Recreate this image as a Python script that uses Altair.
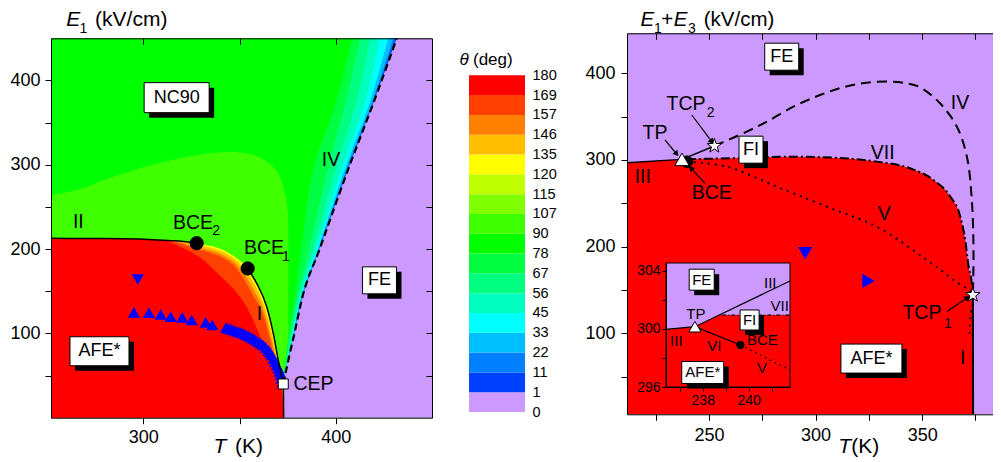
import altair as alt
import pandas as pd

FONT = "Liberation Sans"
W, H = 985, 450
STAR = ("M0,-1L0.235,-0.324L0.951,-0.309L0.38,0.124L0.588,0.809L0,0.4L-0.588,0.809"
        "L-0.38,0.124L-0.951,-0.309L-0.235,-0.324Z")

# ---------------- colour scale: theta (deg) ----------------
CB_LABELS = ["180", "169", "157", "146", "135", "120", "115", "107", "90",
             "78", "67", "56", "45", "33", "22", "11", "1", "0"]
CB_COLORS = ["#ff0000", "#ff4000", "#ff7f00", "#ffbf00", "#ffff00", "#bfff00",
             "#80ff00", "#40ff00", "#00ff00", "#00ff40", "#00ff80", "#00ffbf",
             "#00ffff", "#00bfff", "#0080ff", "#0040ff", "#cc99ff"]
PURPLE = CB_COLORS[16]

# ================= LEFT PANEL  (T in K, E1 in kV/cm) =================
L_T_DOMAIN = [252, 450]
L_E_DOMAIN = [0, 450]

L_II_T = [252, 270, 290, 305, 315, 322, 327.7]
L_II_E = [212.7, 212.6, 212.2, 211.2, 210.0, 208.8, 207.0]
L_I_T = [354.2, 358.9, 364.1, 367.5, 370.1, 371.9, 372.7, 372.9]
L_I_E = [177.0, 159.3, 131.6, 100.0, 68.4, 48.6, 40.0, 0.0]

# outer edge of the AFE* colour region (line II -> BCE2 -> BCE1 -> line I)
L_C0_T = [252, 270, 290, 305, 315, 322, 327.7, 334.6, 341.6, 348.5, 354.2,
          358.9, 364.1, 367.5, 370.1, 371.9, 372.7, 372.9]
L_C0_E = [212.7, 212.6, 212.2, 211.2, 210.0, 208.8, 207.0, 203.9, 198.8, 189.0,
          177.0, 159.3, 131.6, 100.0, 68.4, 48.6, 40.0, 0.0]
L_C1_T = [252, 305, 318, 327.7, 334.6, 341.6, 348.5, 353.5, 358.3, 363.5, 367.0, 369.8, 371.7, 372.9]
L_C1_E = [212.7, 211.2, 209.4, 205.2, 201.6, 196.2, 186.0, 173.0, 156.0, 128.0, 97.0, 66.0, 46.0, 0.0]
L_C2_T = [252, 305, 316, 327.7, 334.6, 341.6, 348.5, 352.8, 357.5, 363.0, 366.5, 369.5, 371.5, 372.9]
L_C2_E = [212.7, 211.2, 209.7, 202.5, 198.5, 192.5, 181.5, 169.0, 151.0, 124.0, 94.0, 63.0, 44.0, 0.0]
L_C3_T = [252, 305, 313, 327.7, 334.6, 341.6, 348.5, 352.0, 356.5, 362.5, 366.0, 369.2, 371.3, 372.9]
L_C3_E = [212.7, 211.2, 210.2, 200.0, 195.5, 189.0, 177.0, 165.0, 147.0, 120.0, 91.0, 61.0, 42.0, 0.0]
L_RED_T = [252, 270, 290, 305, 310.4, 318, 324.2, 330, 334.6, 340, 345, 350, 354.5,
           358.5, 362, 365.8, 368.5, 370.5, 372.0, 372.9]
L_RED_E = [212.7, 212.6, 212.2, 211.2, 210.6, 204, 197, 189, 180, 168, 157, 144, 128,
           108, 90, 76, 60, 46, 38, 0]

# light-green (90-107 deg) patch inside NC90
L_LG_T = [252, 268.8, 280.9, 298.3, 315.6, 332.9, 345, 355, 362, 367.5, 371, 373, 374.5, 375.3, 375.4]
L_LG_E = [264, 272, 283, 296, 306, 313, 315, 313, 307, 297, 286, 272, 255, 235, 0]

# line IV and the thin colour bands along it (left edges at the same E levels)
L_IV_E = [40, 70, 100, 140, 200, 300, 373, 450]
L_IV_T = [372.7, 375.5, 378.5, 382.3, 391.6, 407.3, 419.5, 431.7]
L_BANDS = {
    "#00ff40": [372.7, 373.8, 375.5, 378.3, 382.0, 389.0, 400.0, 408.3],
    "#00ff80": [372.7, 374.4, 376.5, 379.6, 386.0, 396.5, 405.0, 412.6],
    "#00ffbf": [372.7, 374.8, 377.1, 380.5, 388.3, 400.5, 410.5, 417.8],
    "#00ffff": [372.7, 375.1, 377.7, 381.2, 389.9, 403.8, 415.0, 423.0],
    "#00bfff": [372.7, 375.3, 378.0, 381.7, 390.7, 405.5, 417.5, 427.2],
    "#0080ff": [372.7, 375.4, 378.3, 382.0, 391.2, 406.5, 418.7, 429.8],
    "#0040ff": [372.7, 375.45, 378.4, 382.2, 391.4, 407.0, 419.2, 430.9],
}
L_FE_E = [0, 40, 70, 100, 140, 200, 300, 373, 450]
L_FE_T = [372.9, 372.7, 375.5, 378.5, 382.3, 391.6, 407.3, 419.5, 431.7]

L_TRI_T = [295.1, 302.9, 309.0, 314.2, 320.2, 325.1, 332.4, 335.8, 343.0, 344.2, 345.5, 346.8,
           348.1, 349.4, 350.6, 351.9, 353.2, 354.5, 355.8, 357.1, 358.4, 359.7, 361.0, 362.3,
           363.6, 364.9, 365.8, 366.7, 367.6, 368.4, 369.3, 370.1, 370.8, 371.4, 371.9, 372.4]
L_TRI_E = [124.9, 124.5, 122.6, 119.7, 119.0, 115.8, 113.1, 109.9, 107.0, 106.0, 105.0, 104.0,
           103.0, 101.9, 101.0, 100.0, 98.7, 97.2, 95.7, 94.1, 92.2, 90.1, 88.3, 86.2,
           83.4, 80.3, 77.4, 74.3, 70.4, 66.4, 62.5, 58.6, 54.6, 50.6, 46.6, 42.7]
L_TRIDOWN = (297.1, 164.0)
L_BCE_T = [327.7, 354.2]
L_BCE_E = [207.0, 177.0]
L_CEP = (372.7, 40.0)

L_LAB_TXT = ["II", "BCE", "BCE", "IV", "I", "CEP"]
L_LAB_T = [266.2, 325.8, 362.7, 397.5, 360.3, 388.4]
L_LAB_E = [232.3, 231.4, 201.8, 305.5, 122.9, 39.4]
L_SUB_TXT = ["2", "1"]
L_SUB_T = [337.8, 374.1]
L_SUB_E = [221.3, 190.5]
L_BOX_TXT = ["NC90", "FE", "AFE*"]
L_BOX_T = [317.3, 422.7, 277.2]
L_BOX_E = [379.6, 162.9, 78.8]

# ================= RIGHT PANEL  (T in K, E1+E3 in kV/cm) =================
R_T_DOMAIN = [211.5, 387]
R_E_DOMAIN = [6.5, 446.2]

R_III_T = [211.5, 237.3]
R_III_E = [296.9, 300.7]
R_TPTCP_T = [237.3, 252.5]
R_TPTCP_E = [300.7, 316.2]
R_IV_T = [252.5, 267.7, 277.1, 289.6, 302.1, 313, 324, 335, 342.8, 349, 358.4, 366.3, 371, 373.3, 374.1, 373.8]
R_IV_E = [316.2, 332.7, 344.2, 361.5, 375, 383.9, 389.2, 390.4, 388.5, 383.9, 365.4, 338.4, 303.8, 253.9, 196.2, 144.2]
R_VII_T = [239.6, 261.4, 289.6, 313, 328.7, 344.3, 355.3, 363.2, 367.9, 370.2, 371.8, 373.3, 373.8]
R_VII_E = [301.0, 302, 303.8, 302, 298.1, 290.4, 276.9, 257.7, 234.6, 207.7, 176.9, 157.7, 144.2]
R_RED_T = [211.5, 237.3, 239.6, 261.4, 289.6, 313, 328.7, 344.3, 355.3, 363.2, 367.9, 370.2,
           371.8, 373.3, 373.8, 373.9]
R_RED_E = [296.9, 300.7, 301.0, 302, 303.8, 302, 298.1, 290.4, 276.9, 257.7, 234.6, 207.7,
           176.9, 157.7, 144.2, 6.5]
R_I_T = [373.8, 373.9]
R_I_E = [144.2, 6.5]
R_V_T = [239.6, 258.3, 281.8, 305.3, 328.7, 352.2, 364.7, 373.8, 372.6, 372.2]
R_V_E = [298.0, 292.3, 269.2, 246.1, 223.0, 184.6, 161.5, 144.2, 120.0, 96.0]

R_TP = (237.3, 300.7)
R_BCE = (239.6, 298.0)
R_STAR_T = [252.5, 373.8]
R_STAR_E = [316.2, 144.2]
R_TRIDOWN = (295.1, 192.4)
R_TRIRIGHT = (324.8, 160.4)

R_LAB_TXT = ["IV", "TCP", "TP", "VII", "III", "BCE", "V", "TCP", "I"]
R_LAB_T = [367.8, 239.2, 224.6, 331.5, 218.9, 251.3, 332.2, 349.9, 369.0]
R_LAB_E = [366.1, 364.6, 330.8, 307.7, 280.7, 261.6, 237.4, 123.1, 71.2]
R_SUB_TXT = ["2", "1"]
R_SUB_T = [250.8, 362.1]
R_SUB_E = [353.9, 110.8]
R_BOX_TXT = ["FE", "FI", "AFE*"]
R_BOX_T = [284.1, 269.7, 326.2]
R_BOX_E = [419.2, 311.9, 70.8]
R_ARR_T0 = [241.9, 229.3, 248.1, 361.6]
R_ARR_E0 = [351.9, 323.1, 273.1, 125.0]
R_ARR_T1 = [251.3, 234.8, 241.5, 371.3]
R_ARR_E1 = [321.1, 306.9, 290.5, 141.1]
R_ARR_ANG = [143, 140, 317, 56]

# ================= INSET =================
I_T_DOMAIN = [236.4, 241.8]
I_E_DOMAIN = [296, 304.55]
I_RED_T = [236.4, 237.66, 238.71, 241.8]
I_RED_E = [299.98, 300.16, 300.96, 300.96]
I_III_LO_T = [236.4, 237.66]
I_III_LO_E = [299.98, 300.16]
I_III_UP_T = [237.66, 241.8]
I_III_UP_E = [300.16, 303.31]
I_VII_T = [238.85, 241.8]
I_VII_E = [300.96, 300.96]
I_VI_T = [237.66, 239.64]
I_VI_E = [300.16, 298.90]
I_V_T = [239.64, 241.8]
I_V_E = [298.90, 297.17]
I_TP = (237.66, 300.16)
I_BCE = (239.64, 298.90)
I_LAB_TXT = ["III", "VII", "TP", "III", "VI", "BCE", "V"]
I_LAB_T = [240.94, 241.35, 237.70, 236.85, 238.50, 240.60, 240.58]
I_LAB_E = [303.20, 301.60, 301.02, 299.18, 298.84, 299.24, 297.34]
I_BOX_TXT = ["FE", "FI", "AFE*"]
I_BOX_T = [237.955, 240.04, 238.0]
I_BOX_E = [303.40, 300.62, 297.0]

# ---------------- pixel layout of each coordinate frame ----------------
PAN = {
    "L": (L_T_DOMAIN, L_E_DOMAIN, [43, 424], [409.7, 30.3]),
    "R": (R_T_DOMAIN, R_E_DOMAIN, [619, 993], [406.3, 25.3]),
    "I": (I_T_DOMAIN, I_E_DOMAIN, [658, 782], [379, 255]),
    "C": ([0, 1], [0, 17], [461, 517], [404, 67.3]),
}
BOXSIZE = {
    "L": {"NC90": (65, 30), "FE": (34, 27), "AFE*": (59, 29)},
    "R": {"FE": (34, 27), "FI": (24, 27), "AFE*": (61, 29)},
    "I": {"FE": (25, 21), "FI": (19, 20), "AFE*": (42, 22)},
}


def xs(p, f="T", axis=None):
    P = PAN[p]
    return alt.X(f + ":Q", scale=alt.Scale(domain=P[0], range=P[2], nice=False, zero=False), axis=axis)


def ys(p, f="E", axis=None):
    P = PAN[p]
    return alt.Y(f + ":Q", scale=alt.Scale(domain=P[1], range=P[3], nice=False, zero=False), axis=axis)


def bg(p, color):
    P = PAN[p]
    df = pd.DataFrame({"T0": [P[0][0]], "T1": [P[0][1]], "E0": [P[1][0]], "E1": [P[1][1]]})
    return alt.Chart(df).mark_rect(fill=color).encode(
        x=xs(p, "T0"), x2=alt.X2("T1:Q"), y=ys(p, "E0"), y2=alt.Y2("E1:Q"))


def frame(p):
    P = PAN[p]
    df = pd.DataFrame({"T0": [P[0][0]], "T1": [P[0][1]], "E0": [P[1][0]], "E1": [P[1][1]]})
    return alt.Chart(df).mark_rect(fillOpacity=0, stroke="black", strokeWidth=1).encode(
        x=xs(p, "T0"), x2=alt.X2("T1:Q"), y=ys(p, "E0"), y2=alt.Y2("E1:Q"))


def area_under(p, T, E, color, interp="monotone"):
    base = PAN[p][1][0]
    df = pd.DataFrame({"T": T, "E": E, "B": [base] * len(T)})
    return alt.Chart(df).mark_area(color=color, opacity=1, interpolate=interp).encode(
        x=xs(p), y=ys(p), y2=alt.Y2("B:Q"))


def area_h(p, E, lo, hi, color):
    df = pd.DataFrame({"E": E, "lo": lo, "hi": hi})
    return alt.Chart(df).mark_area(orient="horizontal", color=color, opacity=1,
                                   interpolate="monotone").encode(
        y=ys(p), x=xs(p, "lo"), x2=alt.X2("hi:Q"))


def line(p, T, E, width=1.5, dash=None, interp="linear"):
    df = pd.DataFrame({"T": T, "E": E, "i": list(range(len(T)))})
    kw = dict(color="black", strokeWidth=width, interpolate=interp)
    if dash:
        kw["strokeDash"] = dash
    return alt.Chart(df).mark_line(**kw).encode(x=xs(p), y=ys(p), order=alt.Order("i:Q"))


def pts(p, T, E, shape, size, fill, stroke="black", sw=1.0, angle=0):
    df = pd.DataFrame({"T": T, "E": E})
    return alt.Chart(df).mark_point(shape=shape, size=size, filled=True, fill=fill, stroke=stroke,
                                    strokeWidth=sw, opacity=1, angle=angle).encode(x=xs(p), y=ys(p))


def texts(p, T, E, txt, size=19.5, style="normal", align="center"):
    df = pd.DataFrame({"T": T, "E": E, "s": txt})
    return alt.Chart(df).mark_text(font=FONT, fontSize=size, fontStyle=style, align=align,
                                   baseline="middle", color="black").encode(
        x=xs(p), y=ys(p), text="s:N")


def boxes(p, T, E, txt, size=18):
    out = []
    for t, e, s in zip(T, E, txt):
        w, h = BOXSIZE[p][s]
        df = pd.DataFrame({"T": [t], "E": [e], "s": [s]})
        enc = dict(x=xs(p), x2=alt.X2("T:Q"), y=ys(p), y2=alt.Y2("E:Q"))
        out.append(alt.Chart(df).mark_rect(color="black", xOffset=-w / 2 + 5, x2Offset=w / 2 + 5,
                                           yOffset=-h / 2 + 5, y2Offset=h / 2 + 5).encode(**enc))
        out.append(alt.Chart(df).mark_rect(fill="white", stroke="black", strokeWidth=1,
                                           xOffset=-w / 2, x2Offset=w / 2,
                                           yOffset=-h / 2, y2Offset=h / 2).encode(**enc))
        out.append(texts(p, [t], [e], [s], size=size))
    return out


def axis(orient, offset, values, show=None, size=18, tick=6, pad=5, labels=True, domain=True):
    kw = dict(orient=orient, offset=offset, values=values, tickSize=tick, grid=False,
              domainColor="black", tickColor="black", labelColor="black", domainWidth=1,
              tickWidth=1, labelFont=FONT, labelFontSize=size, labelPadding=pad,
              labelFlush=False, labelOverlap=False, title=None, labels=labels,
              domain=domain, ticks=tick > 0, zindex=2)
    if show is not None:
        kw["labelExpr"] = ("indexof([" + ",".join(str(v) for v in show) +
                           "], datum.value) >= 0 ? datum.label : ''")
    return alt.Axis(**kw)


def axes_layer(p, xaxis=None, yaxis=None):
    P = PAN[p]
    df = pd.DataFrame({"T": P[0], "E": P[1]})
    return alt.Chart(df).mark_point(opacity=0).encode(x=xs(p, axis=xaxis), y=ys(p, axis=yaxis))


layers = []

# ---------------- left panel ----------------
layers.append(bg("L", CB_COLORS[8]))
layers.append(area_under("L", L_LG_T, L_LG_E, CB_COLORS[7]))
for col, edge in L_BANDS.items():
    layers.append(area_h("L", L_IV_E, edge, L_IV_T, col))
layers.append(area_h("L", L_FE_E, L_FE_T, [L_T_DOMAIN[1]] * len(L_FE_E), PURPLE))
layers.append(area_under("L", L_C0_T, L_C0_E, CB_COLORS[4]))
layers.append(area_under("L", L_C1_T, L_C1_E, CB_COLORS[3]))
layers.append(area_under("L", L_C2_T, L_C2_E, CB_COLORS[2]))
layers.append(area_under("L", L_C3_T, L_C3_E, CB_COLORS[1]))
layers.append(area_under("L", L_RED_T, L_RED_E, CB_COLORS[0]))
layers.append(pts("L", L_TRI_T, L_TRI_E, "triangle-up", 150, "#0000ff", stroke="#0000ff", sw=0))
layers.append(pts("L", [L_TRIDOWN[0]], [L_TRIDOWN[1]], "triangle-down", 150, "#0000ff", stroke="#0000ff", sw=0))
layers.append(line("L", L_II_T, L_II_E, 1.5, interp="monotone"))
layers.append(line("L", L_I_T, L_I_E, 1.5, interp="monotone"))
layers.append(line("L", L_IV_T, L_IV_E, 2.2, dash=[7, 4], interp="monotone"))
layers.append(pts("L", L_BCE_T, L_BCE_E, "circle", 175, "black"))
layers.append(pts("L", [L_CEP[0]], [L_CEP[1]], "square", 100, "white", sw=1))
layers.append(texts("L", L_LAB_T, L_LAB_E, L_LAB_TXT))
layers.append(texts("L", L_SUB_T, L_SUB_E, L_SUB_TXT, size=14))
layers += boxes("L", L_BOX_T, L_BOX_E, L_BOX_TXT)
# axis titles (placed through the panel scales, outside the data range)
layers.append(texts("L", [263.6], [472.0], ["E"], size=21, style="italic"))
layers.append(texts("L", [268.8], [461.5], ["1"], size=14))
layers.append(texts("L", [274.9], [472.0], ["(kV/cm)"], size=21, align="left"))
layers.append(texts("L", [339.8], [-34.7], ["T"], size=21, style="italic"))
layers.append(texts("L", [347.6], [-34.7], ["(K)"], size=21, align="left"))
L_XR, L_YR = PAN["L"][2], PAN["L"][3]
layers.append(axes_layer(
    "L",
    axis("bottom", L_YR[0] - H, [300, 350, 400], show=[300, 400], pad=5),
    axis("left", -L_XR[0], [50, 100, 150, 200, 250, 300, 350, 400], show=[100, 200, 300, 400], pad=5)))
layers.append(axes_layer(
    "L",
    axis("bottom", L_YR[1] - H, [300, 350, 400], labels=False),
    axis("left", -L_XR[1], [50, 100, 150, 200, 250, 300, 350, 400], labels=False)))

# ---------------- colour bar ----------------
cb_df = pd.DataFrame({"x0": [0] * 17, "x1": [1] * 17,
                      "lo": list(range(17)), "hi": list(range(1, 18)),
                      "c": CB_COLORS[::-1]})
cb_expr = "[" + ",".join("'" + s + "'" for s in CB_LABELS[::-1]) + "][datum.value]"
cb_axis = alt.Axis(orient="right", offset=PAN["C"][2][1] - W, values=list(range(18)),
                   labelExpr=cb_expr, ticks=False, domain=False, grid=False,
                   labelFont=FONT, labelFontSize=14.5, labelColor="black", labelPadding=7,
                   labelFlush=False, labelOverlap=False, title=None, zindex=2)
layers.append(alt.Chart(cb_df).mark_rect().encode(
    x=xs("C", "x0"), x2=alt.X2("x1:Q"), y=ys("C", "lo", axis=cb_axis), y2=alt.Y2("hi:Q"),
    color=alt.Color("c:N", scale=None)))
layers.append(texts("C", [-0.086], [17.77], ["θ"], size=17, style="italic"))
layers.append(texts("C", [0.071], [17.77], ["(deg)"], size=17, align="left"))

# ---------------- right panel ----------------
layers.append(bg("R", PURPLE))
layers.append(area_under("R", R_RED_T, R_RED_E, CB_COLORS[0]))
layers.append(line("R", R_III_T, R_III_E, 1.5))
layers.append(line("R", R_TPTCP_T, R_TPTCP_E, 1.5))
layers.append(line("R", R_IV_T, R_IV_E, 2, dash=[10, 6], interp="catmull-rom"))
layers.append(line("R", R_VII_T, R_VII_E, 2, dash=[9, 3, 2, 3], interp="monotone"))
layers.append(line("R", R_V_T, R_V_E, 2, dash=[2, 5], interp="catmull-rom"))
layers.append(line("R", R_I_T, R_I_E, 2))
layers.append(pts("R", [R_TRIDOWN[0]], [R_TRIDOWN[1]], "triangle-down", 200, "#0000ff", stroke="#0000ff", sw=0))
layers.append(pts("R", [R_TRIRIGHT[0]], [R_TRIRIGHT[1]], "triangle-right", 200, "#0000ff", stroke="#0000ff", sw=0))
layers.append(pts("R", [R_BCE[0]], [R_BCE[1]], "circle", 135, "black"))
layers.append(pts("R", [R_TP[0]], [R_TP[1]], "triangle-up", 210, "white", sw=1))
layers.append(pts("R", R_STAR_T, R_STAR_E, STAR, 230, "white", sw=1))
arr_df = pd.DataFrame({"T": R_ARR_T0, "E": R_ARR_E0, "T1": R_ARR_T1, "E1": R_ARR_E1})
layers.append(alt.Chart(arr_df).mark_rule(color="black", strokeWidth=1.2).encode(
    x=xs("R"), y=ys("R"), x2=alt.X2("T1:Q"), y2=alt.Y2("E1:Q")))
for t, e, a in zip(R_ARR_T1, R_ARR_E1, R_ARR_ANG):
    layers.append(pts("R", [t], [e], "triangle-up", 40, "black", sw=0, angle=a))
layers.append(texts("R", R_LAB_T, R_LAB_E, R_LAB_TXT))
layers.append(texts("R", R_SUB_T, R_SUB_E, R_SUB_TXT, size=14))
layers += boxes("R", R_BOX_T, R_BOX_E, R_BOX_TXT)
layers.append(texts("R", [221.1], [461.3], ["E"], size=20.5, style="italic"))
layers.append(texts("R", [226.0], [450.8], ["1"], size=14))
layers.append(texts("R", [230.4], [461.3], ["+"], size=20.5))
layers.append(texts("R", [236.6], [461.3], ["E"], size=20.5, style="italic"))
layers.append(texts("R", [242.0], [450.8], ["3"], size=14))
layers.append(texts("R", [247.5], [461.3], ["(kV/cm)"], size=20.5, align="left"))
layers.append(texts("R", [313.6], [-31.1], ["T"], size=21, style="italic"))
layers.append(texts("R", [316.7], [-31.1], ["(K)"], size=21, align="left"))
R_XR, R_YR = PAN["R"][2], PAN["R"][3]
layers.append(axes_layer(
    "R",
    axis("bottom", R_YR[0] - H, [225, 250, 275, 300, 325, 350, 375], show=[250, 300, 350], pad=6),
    axis("left", -R_XR[0], [50, 100, 150, 200, 250, 300, 350, 400], show=[100, 200, 300, 400], pad=6)))
layers.append(axes_layer(
    "R",
    axis("bottom", R_YR[1] - H, [225, 250, 275, 300, 325, 350, 375], labels=False)))

# ---------------- inset ----------------
layers.append(bg("I", PURPLE))
layers.append(area_under("I", I_RED_T, I_RED_E, CB_COLORS[0], interp="linear"))
layers.append(line("I", I_III_LO_T, I_III_LO_E, 1.2))
layers.append(line("I", I_III_UP_T, I_III_UP_E, 1.2))
layers.append(line("I", I_VI_T, I_VI_E, 1.2))
layers.append(line("I", I_VII_T, I_VII_E, 1.2, dash=[4, 2, 1, 2]))
layers.append(line("I", I_V_T, I_V_E, 1.5, dash=[1.5, 4]))
layers.append(pts("I", [I_BCE[0]], [I_BCE[1]], "circle", 55, "black"))
layers.append(pts("I", [I_TP[0]], [I_TP[1]], "triangle-up", 150, "white", sw=1))
layers.append(texts("I", I_LAB_T, I_LAB_E, I_LAB_TXT, size=15))
layers += boxes("I", I_BOX_T, I_BOX_E, I_BOX_TXT, size=15)
layers.append(frame("I"))
I_XR, I_YR = PAN["I"][2], PAN["I"][3]
layers.append(axes_layer(
    "I",
    axis("bottom", I_YR[0] - H, [237, 238, 239, 240, 241], show=[238, 240], size=14, tick=4, pad=2),
    axis("left", -I_XR[0], [296, 298, 300, 302, 304], show=[296, 300, 304], size=14, tick=4, pad=2)))

chart = alt.layer(*layers).resolve_scale(x="independent", y="independent").properties(
    width=W, height=H, autosize=alt.AutoSizeParams(type="none"), padding=0
).configure_view(strokeWidth=0)

chart.save("out.html", embed_options={"renderer": "svg", "actions": False})
